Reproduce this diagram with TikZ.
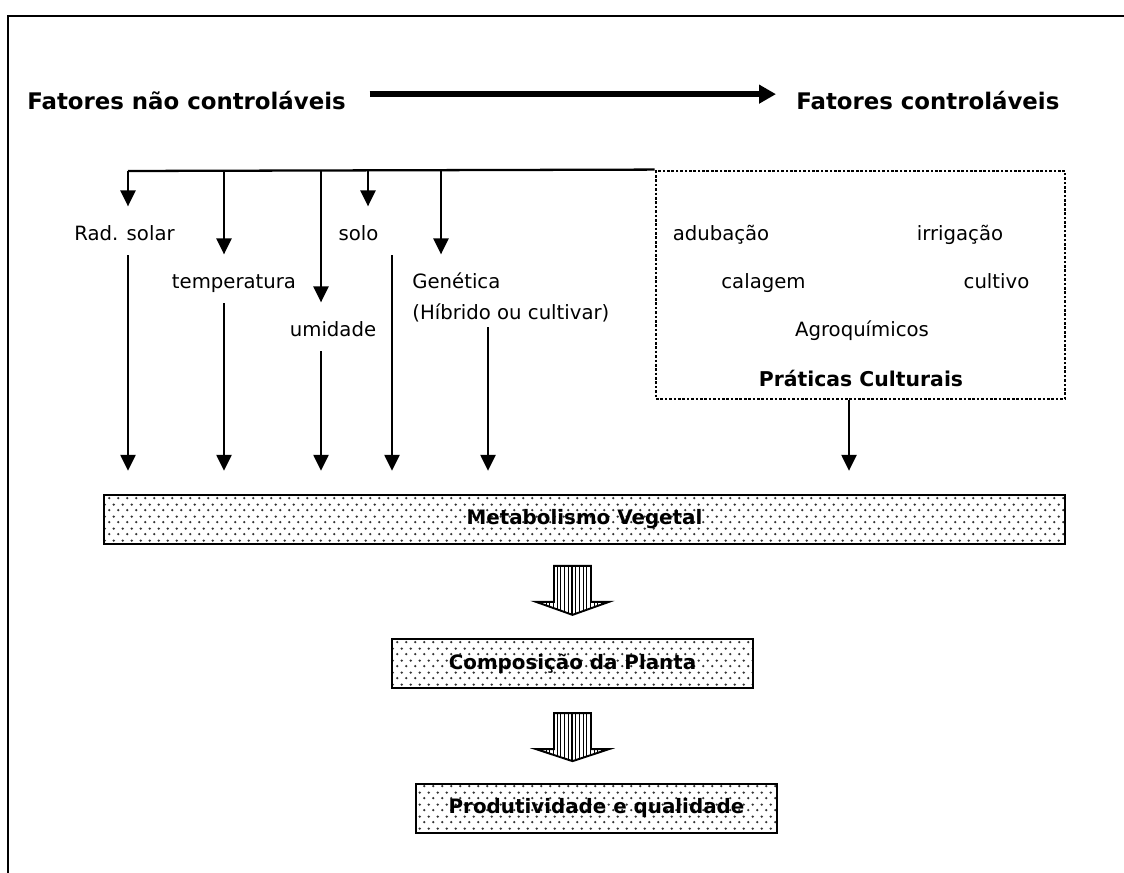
\documentclass[tikz,border=0pt]{standalone}
\usepackage{fontspec}
\setmainfont{DejaVu Sans}
\usetikzlibrary{arrows.meta,patterns.meta}

\pgfdeclarepatternformonly{boxdots}{\pgfpointorigin}{\pgfpoint{0.18cm}{0.24cm}}{\pgfpoint{0.18cm}{0.24cm}}{%
	\pgfpathcircle{\pgfpoint{0.045cm}{0.06cm}}{0.75pt}%
	\pgfpathcircle{\pgfpoint{0.135cm}{0.18cm}}{0.75pt}%
	\pgfusepath{fill}}

\begin{document}
\begin{tikzpicture}[>={Triangle[length=0.32cm,width=0.3cm]},
	frame/.style={line width=1.2pt},
	flow/.style={line width=1.3pt},
	drop/.style={flow,->},
	bigarrow/.style={line width=3.4pt,-{Triangle[length=0.34cm,width=0.36cm]}},
	title/.style={font=\bfseries\fontsize{13}{15}\selectfont,inner sep=0pt,text height=9.5pt,text depth=0pt},
	lbl/.style={font=\fontsize{11.2}{13}\selectfont,inner sep=0pt,text height=19.5pt,text depth=8pt,anchor=base},
	dotbox/.style={draw,line width=1.6pt,dash pattern=on 1.5pt off 1pt},
	barbox/.style={draw,line width=1.3pt,pattern=boxdots,pattern color=black!80,minimum height=0.98cm,inner sep=0pt,font=\bfseries\fontsize{11.3}{13}\selectfont},
	fatarrow/.style={draw,line width=1.1pt,pattern={Lines[angle=90,distance=2.1pt,line width=0.6pt]}}]

	\useasboundingbox (0,0) rectangle (22.48,17.46);
	\draw[frame] (0.16,0) -- (0.16,17.14) -- (22.48,17.14);

	\node[title,anchor=base west] (ncf) at (0.54,15.26) {Fatores não controláveis};
	\node[title,anchor=base west] (cf) at (15.92,15.26) {Fatores controláveis};
	\draw[bigarrow,shorten <=0.47cm,shorten >=0.4cm] ([yshift=0.15cm]ncf.east) -- ([yshift=0.15cm]cf.west);

	\node[dotbox,minimum width=8.18cm,minimum height=4.56cm] (prat) at (17.21,11.76) {};
	\coordinate (b1) at (2.56,14.04);
	\coordinate (b2) at (4.48,14.04);
	\coordinate (b3) at (6.42,14.04);
	\coordinate (b4) at (7.36,14.04);
	\coordinate (b5) at (8.82,14.04);
	\draw[flow] (b1) -- (prat.north west);

	\node[lbl] (rad) at (2.49,12.64) {Rad. solar};
	\node[lbl] (temp) at (4.68,11.68) {temperatura};
	\node[lbl] (umid) at (6.66,10.72) {umidade};
	\node[lbl] (solo) at (7.17,12.64) {solo};
	\node[lbl,anchor=base west] (gen) at (8.24,11.68) {Genética};
	\node[lbl,anchor=base west,text depth=4pt] (hib) at (8.24,11.06) {(Híbrido ou cultivar)};

	\node[lbl] (adu) at (14.42,12.64) {adubação};
	\node[lbl] (irr) at (19.20,12.64) {irrigação};
	\node[lbl] (cal) at (15.27,11.68) {calagem};
	\node[lbl] (cul) at (19.93,11.68) {cultivo};
	\node[lbl] (agro) at (17.24,10.72) {Agroquímicos};
	\node[lbl,font=\bfseries\fontsize{11.6}{14}\selectfont] (pc) at (17.22,9.72) {Práticas Culturais};

	\node[barbox,minimum width=19.22cm] (meta) at (11.69,7.07) {Metabolismo Vegetal};
	\node[barbox,minimum width=7.22cm] (comp) at (11.45,4.19) {Composição da Planta};
	\node[barbox,minimum width=7.22cm] (prod) at (11.93,1.29) {Produtividade e qualidade};

	\draw[drop] (b1) -- (b1 |- rad.north);
	\draw[drop] (b2) -- (b2 |- temp.north);
	\draw[drop] (b3) -- (b3 |- umid.north);
	\draw[drop] (b4) -- (b4 |- solo.north);
	\draw[drop] (b5) -- (b5 |- gen.north);

	\draw[drop,shorten >=0.46cm] (b1 |- rad.south) -- (b1 |- meta.north);
	\draw[drop,shorten >=0.46cm] (b2 |- temp.south) -- (b2 |- meta.north);
	\draw[drop,shorten >=0.46cm] (b3 |- umid.south) -- (b3 |- meta.north);
	\draw[drop,shorten >=0.46cm] ([xshift=0.67cm]solo.south) -- ([xshift=0.67cm]solo.south |- meta.north);
	\draw[drop,shorten >=0.46cm] ([xshift=1.52cm]hib.south west) -- ([xshift=1.52cm]hib.south west |- meta.north);
	\draw[drop,shorten >=0.46cm] ([xshift=-0.23cm]prat.south) -- ([xshift=-0.23cm]prat.south |- meta.north);

	\draw[fatarrow] ([shift={(-0.37,1.44)}]comp.north) -- ++(0.74,0) -- ++(0,-0.72) -- ++(0.36,0) -- ++(-0.73,-0.26) -- ++(-0.73,0.26) -- ++(0.36,0) -- cycle;
	\draw[fatarrow] ([shift={(-0.37,-0.48)}]comp.south) -- ++(0.74,0) -- ++(0,-0.72) -- ++(0.36,0) -- ++(-0.73,-0.24) -- ++(-0.73,0.24) -- ++(0.36,0) -- cycle;

\end{tikzpicture}
\end{document}
